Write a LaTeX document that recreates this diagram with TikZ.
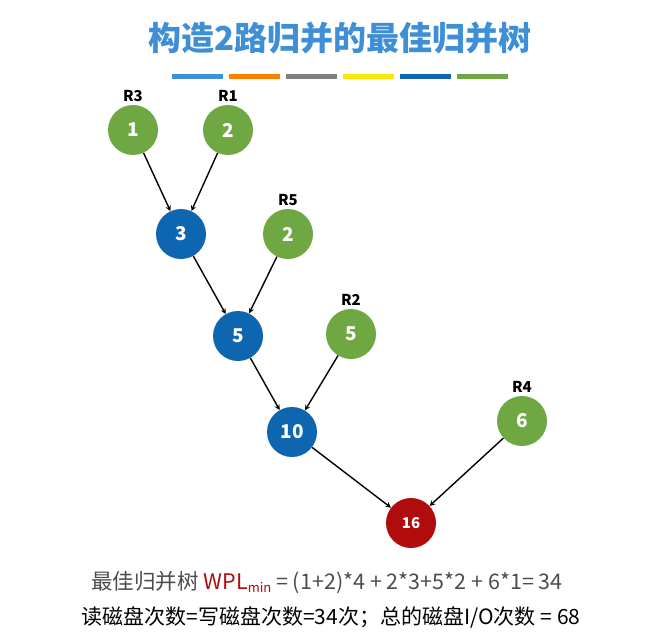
\documentclass[tikz,border=0pt]{standalone}
\usepackage{fontspec}
\setmainfont{Noto Sans CJK SC}
\usetikzlibrary{positioning}
\definecolor{leafgreen}{HTML}{6FA843}
\definecolor{mergeblue}{HTML}{0E66B0}
\definecolor{rootred}{HTML}{B00C0C}
\definecolor{titleblue}{HTML}{3F8FD6}
\begin{document}
\begin{tikzpicture}[%
       x=1pt, y=-1pt,
       >=stealth,
       leaf/.style={circle,fill=leafgreen,text=white,minimum size=50pt,inner sep=0pt,font=\fontsize{19}{19}\selectfont\bfseries},
       merge/.style={leaf,fill=mergeblue},
       root/.style={leaf,fill=rootred,font=\fontsize{15}{15}\selectfont\bfseries},
       run/.style={font=\fontsize{15}{15}\selectfont\bfseries},
       link/.style={->,line width=1.4pt}
     ]
     \useasboundingbox (0,0) rectangle (645,641);
     \node[font=\fontsize{33}{33}\selectfont\bfseries,text=titleblue] (title) at (340,38) {构造2路归并的最佳归并树};
     \foreach \c [count=\i] in {titleblue,orange,gray,yellow!90!orange,mergeblue,leafgreen}
       \fill[\c] ({172+(\i-1)*57},74) rectangle ++(51,5);

     \node[leaf]  (1)  at (133,130) {1};
     \node[leaf]  (2)  at (228,130) {2};
     \node[merge] (3)  at (181,234) {3};
     \node[leaf]  (2b) at (288,234) {2};
     \node[merge] (5)  at (238,336) {5};
     \node[leaf]  (5b) at (351,334) {5};
     \node[merge] (10) at (292,432) {10};
     \node[leaf]  (6)  at (522,421) {6};
     \node[root]  (16) at (411,523) {16};

     \node[run] (r3) [above=0pt of 1]  {R3};
     \node[run] (r1) [above=0pt of 2]  {R1};
     \node[run] (r5) [above=0pt of 2b] {R5};
     \node[run] (r2) [above=0pt of 5b] {R2};
     \node[run] (r4) [above=0pt of 6]  {R4};

     \draw[link] (1) -- (3);
     \draw[link] (2) -- (3);
     \draw[link] (3) -- (5);
     \draw[link] (2b) -- (5);
     \draw[link] (5) -- (10);
     \draw[link] (5b) -- (10);
     \draw[link] (10) -- (16);
     \draw[link] (6) -- (16);

     \node[font=\fontsize{21.5}{21.5}\selectfont,text=black!70] (wpl) at (327,583)
       {最佳归并树 \textcolor{rootred}{WPL\raisebox{-3pt}{\fontsize{13}{13}\selectfont min}} = (1+2)*4 + 2*3+5*2 + 6*1= 34};
     \node[font=\fontsize{21}{21}\selectfont] (io) at (331,617)
       {读磁盘次数=写磁盘次数=34次；总的磁盘I/O次数 = 68};
\end{tikzpicture}
\end{document}
